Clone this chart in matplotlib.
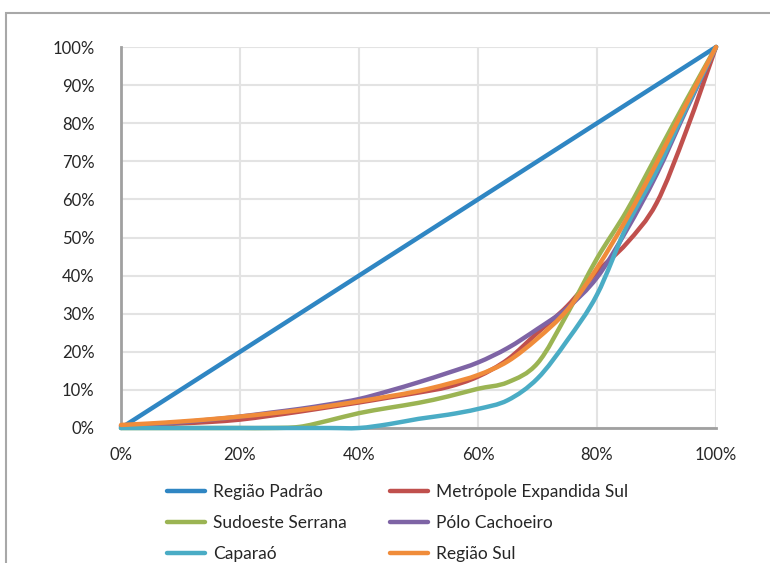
import matplotlib

matplotlib.use("Agg")
import matplotlib.pyplot as plt  # noqa: E402
from matplotlib.lines import Line2D  # noqa: E402
from matplotlib.patches import PathPatch, Rectangle  # noqa: E402
from matplotlib.path import Path  # noqa: E402
from matplotlib.ticker import PercentFormatter  # noqa: E402

# Curvas de Lorenz por microrregiao (populacao acumulada x renda acumulada, %)
pop_acum = [0, 5, 10, 15, 20, 25, 30, 35, 40, 45, 50, 55, 60, 65, 70, 75, 80, 85, 90, 95, 100]

regiao_padrao = pop_acum
metropole_sul = [0.5, 0.8, 1.2, 1.6, 2.2, 3.2, 4.3, 5.5, 6.7, 8.0, 9.3, 10.8, 13.5, 18.0,
                 25.0, 32.0, 41.0, 48.5, 59.0, 78.0, 100]
sudoeste_serrana = [0, 0, 0, 0, 0, 0, 0.3, 2.0, 3.9, 5.3, 6.6, 8.3, 10.3, 12.0,
                    17.0, 30.0, 44.5, 57.0, 71.5, 86.0, 100]
polo_cachoeiro = [0.5, 1.0, 1.5, 2.2, 3.0, 4.0, 5.0, 6.2, 7.6, 9.7, 12.0, 14.5, 17.2, 21.0,
                  26.0, 31.5, 39.5, 52.0, 66.5, 83.5, 100]
caparao = [0, 0, 0, 0, 0, 0, 0, 0, 0, 1.0, 2.4, 3.5, 5.0, 7.3,
           13.0, 23.0, 35.0, 53.0, 67.5, 84.0, 100]
regiao_sul = [0.8, 1.2, 1.7, 2.3, 3.0, 3.8, 4.7, 5.8, 7.0, 8.3, 9.7, 11.6, 13.9, 17.5,
              23.5, 31.0, 42.0, 55.0, 69.5, 85.0, 100]

series = [
    ("Região Padrão", regiao_padrao, "#2f86c3"),
    ("Metrópole Expandida Sul", metropole_sul, "#c0504d"),
    ("Sudoeste Serrana", sudoeste_serrana, "#9bb453"),
    ("Pólo Cachoeiro", polo_cachoeiro, "#7e64a5"),
    ("Caparaó", caparao, "#4aacc5"),
    ("Região Sul", regiao_sul, "#f08c3a"),
]

GRID = "#e3e3e3"
SPINE = "#a0a0a0"
TEXT = "#262626"
LW = 3.2


def linha_suavizada(ax, xs, ys, cor):
    """Linha suavizada (estilo planilha): Bezier cubica pelos pontos."""
    pts = list(zip(xs, ys))
    n = len(pts)
    verts = [pts[0]]
    codes = [Path.MOVETO]
    for i in range(n - 1):
        p0 = pts[max(i - 1, 0)]
        p1 = pts[i]
        p2 = pts[i + 1]
        p3 = pts[min(i + 2, n - 1)]
        c1 = (p1[0] + (p2[0] - p0[0]) / 6, p1[1] + (p2[1] - p0[1]) / 6)
        c2 = (p2[0] - (p3[0] - p1[0]) / 6, p2[1] - (p3[1] - p1[1]) / 6)
        verts += [c1, c2, p2]
        codes += [Path.CURVE4] * 3
    patch = PathPatch(Path(verts, codes), fill=False, edgecolor=cor, linewidth=LW,
                      capstyle="round", joinstyle="round", zorder=3, clip_on=False)
    ax.add_patch(patch)


plt.rcParams["font.family"] = ["Lato", "DejaVu Sans"]

fig = plt.figure(figsize=(7.7, 5.63), dpi=100)
fig.patch.set_facecolor("white")
# moldura da area do grafico
fig.patches.append(Rectangle((6 / 770, -0.1), 1.2, 1 - 13 / 563 + 0.1,
                             transform=fig.transFigure, fill=False,
                             edgecolor="#a8a8a8", linewidth=1.5))

ax = fig.add_axes([121 / 770, 1 - 428 / 563, 595 / 770, 381 / 563])

handles = []
for nome, valores, cor in series:
    linha_suavizada(ax, pop_acum, valores, cor)
    handles.append(Line2D([], [], color=cor, linewidth=LW, solid_capstyle="round"))

ax.set_xlim(0, 100)
ax.set_ylim(0, 100)
ax.set_xticks(range(0, 101, 20))
ax.set_yticks(range(0, 101, 10))
ax.xaxis.set_major_formatter(PercentFormatter(decimals=0))
ax.yaxis.set_major_formatter(PercentFormatter(decimals=0))
ax.tick_params(length=0, labelsize=12, colors=TEXT)
ax.tick_params(axis="y", pad=19)
ax.tick_params(axis="x", pad=14)

ax.grid(color=GRID, linewidth=1.5, zorder=0)
ax.set_axisbelow(True)
for lado in ("top", "right"):
    ax.spines[lado].set_visible(False)
for lado in ("left", "bottom"):
    ax.spines[lado].set_color(SPINE)
    ax.spines[lado].set_linewidth(2)

# legenda em duas colunas, preenchida por linha
ordem = [0, 2, 4, 1, 3, 5]
fig.legend([handles[i] for i in ordem], [series[i][0] for i in ordem],
           loc="upper left", bbox_to_anchor=(151 / 770, 1 - 468 / 563),
           ncol=2, frameon=False, fontsize=12.5, handlelength=2.2,
           handletextpad=0.45, columnspacing=2.5, labelspacing=0.87,
           labelcolor=TEXT)

fig.savefig("out.png", dpi=100)
